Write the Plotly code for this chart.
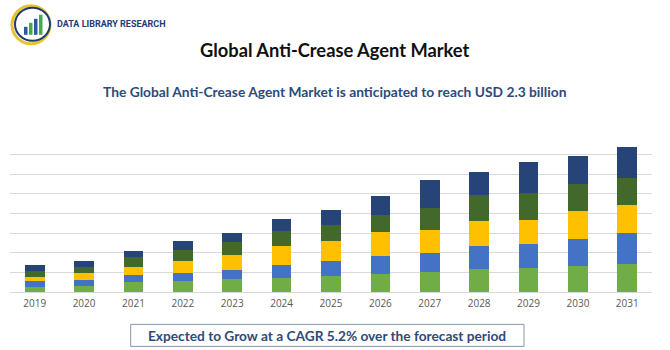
import plotly.graph_objects as go

years = ["2019", "2020", "2021", "2022", "2023", "2024", "2025", "2026", "2027", "2028", "2029", "2030", "2031"]
seg1 = [0.26, 0.31, 0.51, 0.56, 0.66, 0.71, 0.82, 0.90, 1.00, 1.19, 1.22, 1.31, 1.43]
seg2 = [0.31, 0.29, 0.37, 0.41, 0.44, 0.66, 0.77, 0.94, 0.99, 1.17, 1.21, 1.38, 1.58]
seg3 = [0.20, 0.39, 0.39, 0.61, 0.80, 0.99, 1.02, 1.22, 1.16, 1.24, 1.26, 1.43, 1.41]
seg4 = [0.31, 0.29, 0.49, 0.54, 0.65, 0.73, 0.80, 0.88, 1.14, 1.36, 1.36, 1.38, 1.38]
seg5 = [0.29, 0.29, 0.34, 0.46, 0.46, 0.65, 0.78, 0.95, 1.43, 1.17, 1.55, 1.43, 1.60]

series = [seg1, seg2, seg3, seg4, seg5]
colors = ["#70AD47", "#4472C4", "#FFC000", "#43682B", "#264478"]

fig = go.Figure()
for vals, c in zip(series, colors):
    fig.add_trace(go.Bar(x=years, y=vals, marker=dict(color=c, line=dict(width=0)),
                         width=0.4, showlegend=False))

fig.update_layout(
    barmode="stack",
    width=670, height=350,
    margin=dict(l=10, r=18, t=135, b=58),
    paper_bgcolor="white", plot_bgcolor="white",
    xaxis=dict(showgrid=False, showline=False, ticks="", ticklabelstandoff=4,
               tickfont=dict(family="Open Sans, Lato, sans-serif", size=10, color="#595959")),
    yaxis=dict(range=[0, 8], dtick=1, showgrid=True, gridcolor="#D9D9D9", gridwidth=1,
               zeroline=True, zerolinecolor="#D9D9D9", zerolinewidth=1,
               showticklabels=False, ticks=""),
)

# Titles
fig.add_annotation(text="<b>Global Anti-Crease Agent Market</b>", xref="paper", yref="paper",
                   x=0.5, y=1, xanchor="center", yanchor="middle",
                   xshift=4, yshift=135 - 50,
                   showarrow=False,
                   font=dict(family="Lato, Open Sans, sans-serif", size=18.3, color="#111111"))
fig.add_annotation(text="<b>The Global Anti-Crease Agent Market is anticipated to reach USD 2.3 billion</b>",
                   xref="paper", yref="paper", x=0.5, y=1, xanchor="center", yanchor="middle",
                   xshift=4, yshift=135 - 91,
                   showarrow=False,
                   font=dict(family="Lato, Open Sans, sans-serif", size=13.8, color="#2E4A7A"))

# Bottom box
fig.add_shape(type="rect", xref="paper", yref="paper",
              x0=(130.7 - 10) / 642, x1=(524 - 10) / 642,
              y0=-(346 - 291.7) / 156.7, y1=-(324 - 291.7) / 156.7,
              line=dict(color="#8497B0", width=1), fillcolor="white")
fig.add_annotation(text="<b>Expected to Grow at a CAGR 5.2% over the forecast period</b>",
                   xref="paper", yref="paper", x=(327 - 10) / 642, y=-(335 - 291.7) / 156.7,
                   xanchor="center", yanchor="middle", showarrow=False,
                   font=dict(family="Lato, Open Sans, sans-serif", size=13.7, color="#2E4A7A"))

# Logo
def px(xp):
    return (xp - 10) / 642
def py(yp):
    return (291.7 - yp) / 156.7

fig.add_shape(type="circle", xref="paper", yref="paper",
              x0=px(12), x1=px(50), y0=py(44), y1=py(6),
              line=dict(color="#E8C230", width=3))
fig.add_shape(type="circle", xref="paper", yref="paper",
              x0=px(15), x1=px(50), y0=py(41), y1=py(8),
              line=dict(color="#1F3B73", width=2), fillcolor="white")
for i, (bx, bh) in enumerate([(24, 8), (29, 12), (34, 16), (39, 20)]):
    fig.add_shape(type="rect", xref="paper", yref="paper",
                  x0=px(bx), x1=px(bx + 3.5), y0=py(35), y1=py(35 - bh),
                  line=dict(width=0), fillcolor="#2D5A9E" if i % 2 == 0 else "#3DAE4A")
fig.add_annotation(text="<b>DATA LIBRARY RESEARCH</b>", xref="paper", yref="paper",
                   x=px(55), y=py(24), xanchor="left", yanchor="middle", showarrow=False,
                   font=dict(family="Roboto, sans-serif", size=9, color="#243B7A"))

fig.write_html("out.html")
